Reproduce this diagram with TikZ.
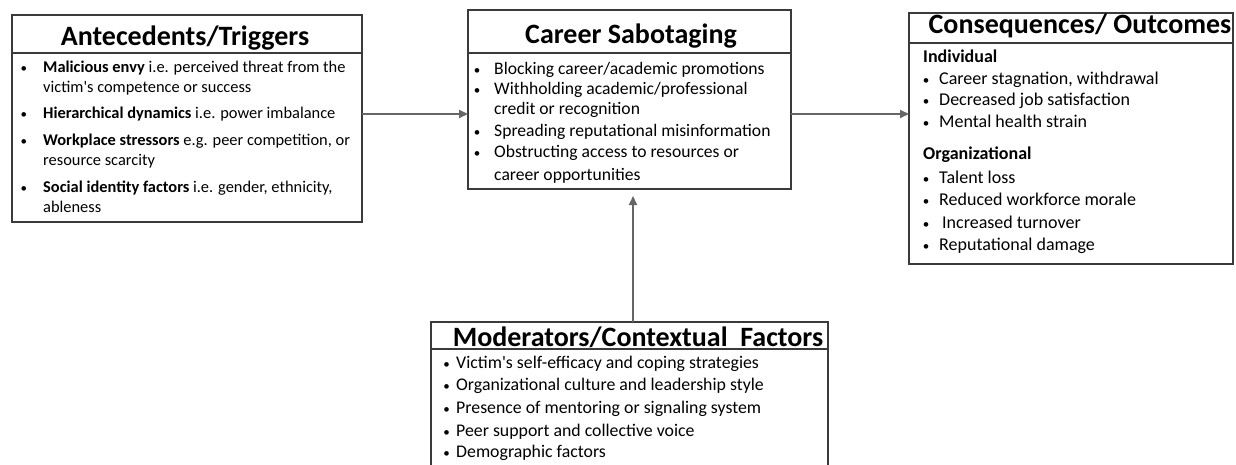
\documentclass[tikz,border=0pt]{standalone}
\usepackage{fontspec}
\setmainfont{Carlito}
\usetikzlibrary{arrows.meta}
\definecolor{framegray}{HTML}{3A3A3A}
\definecolor{arrowgray}{HTML}{666666}
% list bullet set in a box of the given width
\newcommand\smallbullet[1]{\makebox[#1][l]{\fontsize{13}{13}\selectfont\textbullet}}
\begin{document}
\begin{tikzpicture}[x=1pt, y=-1pt,
  frame/.style={draw=framegray, line width=1.4pt, anchor=north west,
    inner sep=0pt, outer sep=0pt},
  headtext/.style={anchor=base, inner sep=0pt,
    font=\fontsize{28}{30}\selectfont\bfseries},
  bodytext/.style={anchor=base west, inner sep=0pt,
    font=\fontsize{17.6}{20}\selectfont},
  lefttext/.style={bodytext, font=\fontsize{16.4}{20}\selectfont},
  righttext/.style={bodytext, font=\fontsize{18}{20}\selectfont},
  rightsub/.style={bodytext, font=\fontsize{18}{20}\selectfont\bfseries},
  lowtext/.style={bodytext, font=\fontsize{17.8}{20}\selectfont},
  link/.style={draw=arrowgray, line width=2pt,
    -{Triangle[length=9pt, width=8pt]}},
]
\useasboundingbox (0,0) rectangle (1236,465);

% ---- Antecedents / Triggers ----
\node[frame, minimum width=350pt, minimum height=38pt] (anteH) at (12,15) {};
\node[frame, minimum width=350pt, minimum height=169pt] (anteB) at (12,53) {};
\node[headtext] (anteT) at (185,46) {Antecedents/Triggers};
\node[lefttext] (a1) at (20.5,73) {\smallbullet{22.5pt}\textbf{Malicious envy} i.e. perceived threat from the};
\node[lefttext] (a2) at (43,93) {victim\textquotesingle s competence or success};
\node[lefttext] (a3) at (20.5,119) {\smallbullet{22.5pt}\textbf{Hierarchical dynamics} i.e. power imbalance};
\node[lefttext] (a4) at (20.5,146) {\smallbullet{22.5pt}\textbf{Workplace stressors} e.g. peer competition, or};
\node[lefttext] (a5) at (43,166) {resource scarcity};
\node[lefttext] (a6) at (20.5,193) {\smallbullet{22.5pt}\textbf{Social identity factors} i.e. gender, ethnicity,};
\node[lefttext] (a7) at (43,212) {ableness};

% ---- Career Sabotaging ----
\node[frame, minimum width=323pt, minimum height=43pt] (sabH) at (468,10) {};
\node[frame, minimum width=323pt, minimum height=136pt] (sabB) at (468,53) {};
\node[headtext] (sabT) at (631,44) {Career Sabotaging};
\node[bodytext] (s1) at (473.7,75) {\smallbullet{20.3pt}Blocking career/academic promotions};
\node[bodytext] (s2) at (473.7,95) {\smallbullet{20.3pt}Withholding academic/professional};
\node[bodytext] (s3) at (494,115) {credit or recognition};
\node[bodytext] (s4) at (473.7,137) {\smallbullet{20.3pt}Spreading reputational misinformation};
\node[bodytext] (s5) at (473.7,158) {\smallbullet{20.3pt}Obstructing access to resources or};
\node[bodytext] (s6) at (494,181) {career opportunities};

% ---- Consequences / Outcomes ----
\node[frame, minimum width=324pt, minimum height=30pt] (conH) at (909,13) {};
\node[frame, minimum width=324pt, minimum height=221pt] (conB) at (909,43) {};
\node[headtext] (conT) at (1080,34) {Consequences/ Outcomes};
\node[rightsub] (c0) at (923,63) {Individual};
\node[righttext] (c1) at (922.7,85) {\smallbullet{16.3pt}Career stagnation, withdrawal};
\node[righttext] (c2) at (922.7,106) {\smallbullet{16.3pt}Decreased job satisfaction};
\node[righttext] (c3) at (922.7,128) {\smallbullet{16.3pt}Mental health strain};
\node[rightsub] (c4) at (923,160) {Organizational};
\node[righttext] (c5) at (922.7,183) {\smallbullet{16.3pt}Talent loss};
\node[righttext] (c6) at (922.7,205) {\smallbullet{16.3pt}Reduced workforce morale};
\node[righttext] (c7) at (922.7,228) {\smallbullet{19.3pt}Increased turnover};
\node[righttext] (c8) at (922.7,250) {\smallbullet{16.3pt}Reputational damage};

% ---- Moderators / Contextual Factors ----
\node[frame, minimum width=397pt, minimum height=27pt] (modH) at (431,322) {};
\node[frame, minimum width=397pt, minimum height=130pt] (modB) at (431,349) {};
\node[headtext] (modT) at (638,346) {Moderators/Contextual\ \ Factors};
\node[lowtext] (m1) at (443.2,368) {\smallbullet{12.8pt}Victim\textquotesingle s self-efficacy and coping strategies};
\node[lowtext] (m2) at (443.2,390) {\smallbullet{12.8pt}Organizational culture and leadership style};
\node[lowtext] (m3) at (443.2,413) {\smallbullet{12.8pt}Presence of mentoring or signaling system};
\node[lowtext] (m4) at (443.2,436) {\smallbullet{12.8pt}Peer support and collective voice};
\node[lowtext] (m5) at (443.2,457) {\smallbullet{12.8pt}Demographic factors};

% ---- connectors ----
\draw[link] (anteB.east |- 0,114) -- (sabB.west |- 0,114);
\draw[link] (sabB.east |- 0,114) -- (conB.west |- 0,114);
\draw[link] (modH.north -| 633,0) -- ([yshift=-7pt]sabB.south -| 633,0);
\end{tikzpicture}
\end{document}
